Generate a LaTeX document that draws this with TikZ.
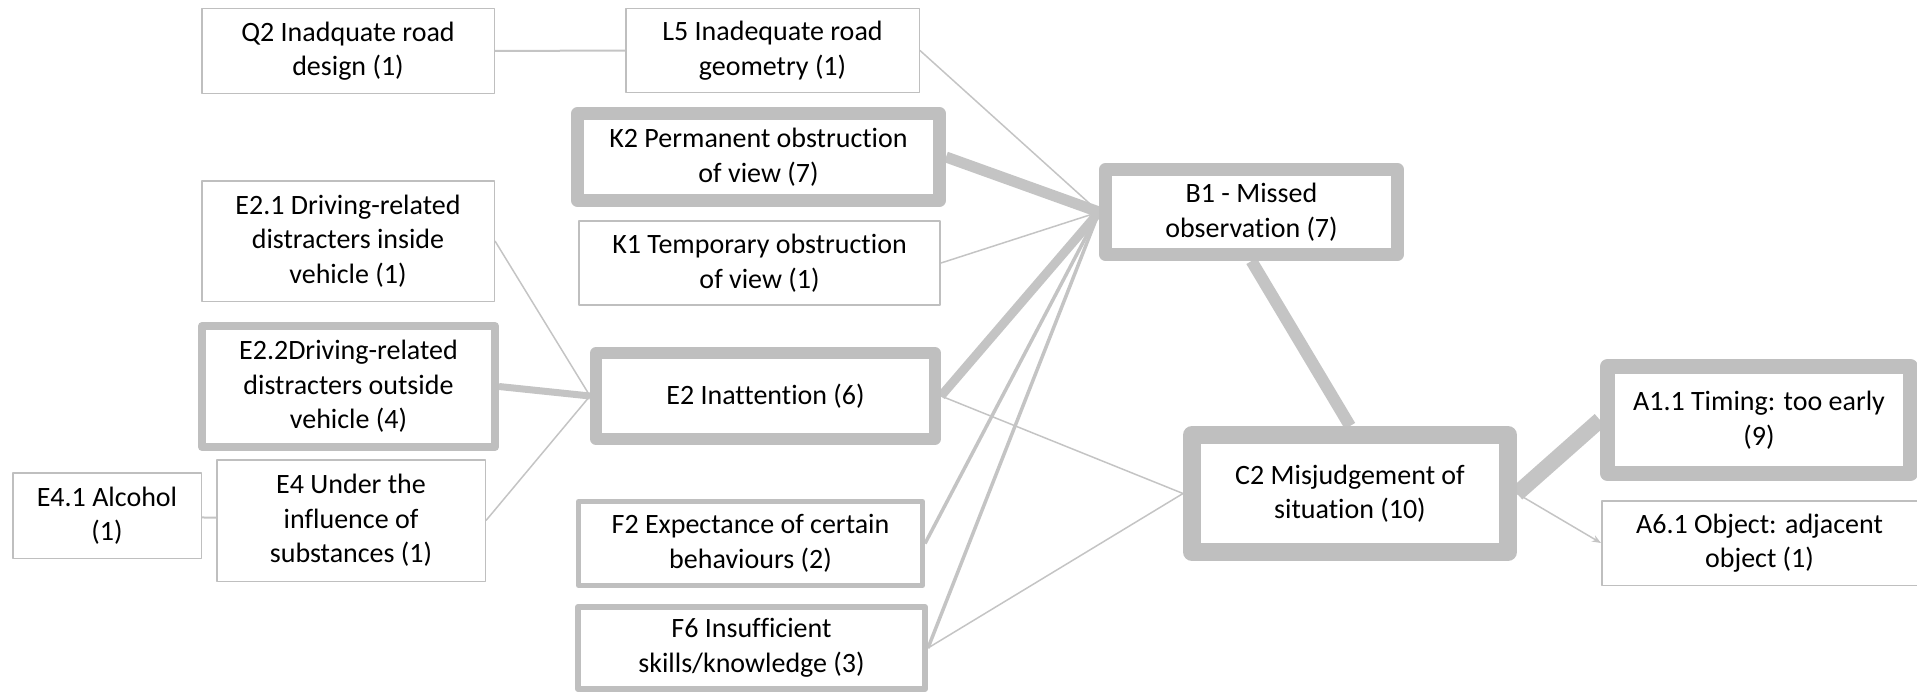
\documentclass[tikz,border=0pt]{standalone}
\usepackage{fontspec}
\setmainfont{Carlito}[Ligatures={NoCommon}]
\usetikzlibrary{arrows.meta}
\definecolor{framegray}{RGB}{191,191,191}
\definecolor{linkgray}{RGB}{196,196,196}
\pgfdeclarelayer{links}
\pgfsetlayers{links,main}

\begin{document}
\begin{tikzpicture}[x=1pt,y=-1pt,
  box/.style={draw=framegray, fill=white, align=center, inner sep=0pt,
    line width=#1, line join=round, text=black,
    font=\fontsize{28}{34.5}\selectfont},
  box/.default=1.5pt,
  link/.style={draw=linkgray, line width=#1},
  link/.default=1.5pt]
\useasboundingbox (0,0) rectangle (1917,693);

% factor boxes (minimum size = outer size minus frame width)
\node[box, minimum width=292.5, minimum height=84.5] (Q2) at (348,51)
  {Q2 Inadquate road\\design (1)};
\node[box, minimum width=293.5, minimum height=83.5] (L5) at (772.5,50.5)
  {L5 Inadequate road\\geometry (1)};
\node[box=13pt, minimum width=362, minimum height=87] (K2) at (758.5,157)
  {K2 Permanent obstruction\\of view (7)};
\node[box=2pt, minimum width=361, minimum height=84] (K1) at (759.5,263)
  {K1 Temporary obstruction\\of view (1)};
\node[box, minimum width=292.5, minimum height=120.5] (E21) at (348,241)
  {E2.1 Driving-related\\distracters inside\\vehicle (1)};
\node[box=8pt, minimum width=293, minimum height=121] (E22) at (348.5,386.5)
  {E2.2Driving-related\\distracters outside\\vehicle (4)};
\node[box=12pt, minimum width=339, minimum height=86] (E2) at (765.5,396)
  {E2 Inattention (6)};
\node[box, minimum width=188.5, minimum height=85.5] (E41) at (107,515.5)
  {E4.1 Alcohol\\(1)};
\node[box, minimum width=268.5, minimum height=121.5] (E4) at (351,520.5)
  {E4 Under the\\influence of\\substances (1)};
\node[box=5pt, minimum width=344, minimum height=84] (F2) at (750.5,543.5)
  {F2 Expectance of certain\\behaviours (2)};
\node[box=6pt, minimum width=347, minimum height=82] (F6) at (751.5,648)
  {F6 Insufficient\\skills/knowledge (3)};
\node[box=13pt, minimum width=292, minimum height=85] (B1) at (1251.5,212)
  {B1 - Missed\\observation (7)};
\node[box=18pt, minimum width=316, minimum height=117] (C2) at (1350,493.5)
  {C2 Misjudgement of\\situation (10)};
\node[box=15pt, minimum width=303, minimum height=107] (A11) at (1759,420)
  {A1.1 Timing: too early\\(9)};
\node[box, minimum width=315.5, minimum height=84.5] (A61) at (1759.5,543)
  {A6.1 Object: adjacent\\object (1)};

% connectors, drawn underneath the boxes
\begin{pgfonlayer}{links}
  \draw[link=2pt] (Q2) -- (L5);
  \draw[link] (L5.east) -- (B1.west);
  \draw[link=11pt] (K2.east) -- (B1.west);
  \draw[link] (K1.east) -- (B1.west);
  \draw[link=9pt] (E2.east) -- (B1.west);
  \draw[link=3.5pt] (F2.east) -- (B1.west);
  \draw[link=3.5pt] (F6.east) -- (B1.west);
  \draw[link] (E21.east) -- (E2.west);
  \draw[link=7pt] (E22.east) -- (E2.west);
  \draw[link] (E4.east) -- (E2.west);
  \draw[link=2pt] (E41) -- (E4);
  \draw[link] (E2.east) -- (C2.west);
  \draw[link] (F6.east) -- (C2.west);
  \draw[link=12pt] (B1.south) -- (C2.north);
  \draw[link=16pt] (C2.east) -- (A11.west);
  \draw[link, -{Stealth[length=9pt,width=7pt]}] (C2.east) -- (A61.west);
\end{pgfonlayer}
\end{tikzpicture}
\end{document}
